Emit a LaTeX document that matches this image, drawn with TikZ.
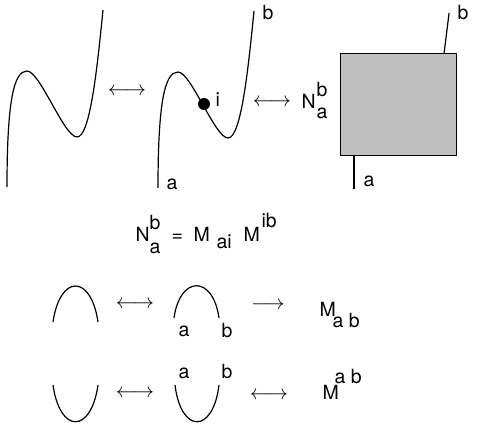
\documentclass[tikz,border=0pt]{standalone}
\usepackage{fontspec}
\setmainfont{TeX Gyre Heros}
\usepackage{tikz}
\definecolor{boxgray}{gray}{0.75}

\begin{document}
\begin{tikzpicture}[x=1pt, y=-1pt, line width=1.2pt,
    lbl/.style={font=\fontsize{19.5}{22}\selectfont, anchor=base west, inner sep=0pt},
    arr/.style={font=\fontsize{20}{24}\selectfont, inner sep=0pt},
    dotnode/.style={circle, fill=black, inner sep=0pt, minimum size=12pt}]
    \useasboundingbox (0,0) rectangle (489,427);

    % Curves
    \draw (7,187) .. controls (7,100) and (14,71) .. (27,71)
        .. controls (40,71) and (64,137) .. (77,137)
        .. controls (90,137) and (97,70) .. (103,10);
    \node[arr] (arrA) at (127,92) {$\longleftrightarrow$};
    \begin{scope}[shift={(151,1)}]
        \draw (7,187) .. controls (7,100) and (14,71) .. (27,71)
            .. controls (40,71) and (64,137) .. (77,137)
            .. controls (90,137) and (97,70) .. (103,10);
        \node[dotnode] (dot) at (53,103) {};
    \end{scope}
    \node[lbl] (labI) at (215,107) {i};
    \node[lbl] (labA) at (166,190) {a};
    \node[lbl] (labB) at (262,20) {b};
    \node[arr] (arrB) at (272,103) {$\longleftrightarrow$};

    % N box
    \node[lbl] (nN) at (301,109) {N};
    \node[lbl] (nNb) at (316,97) {b};
    \node[lbl] (nNa) at (316,119) {a};
    \node[draw, fill=boxgray, minimum width=116pt, minimum height=102pt] (box) at (398.5,104.5) {};
    \draw (box.north east) ++(-13,0) coordinate (wt) -- ++(5,-40) coordinate (wtEnd);
    \draw (box.south west) ++(14,0) coordinate (wb) -- ++(0,33) coordinate (wbEnd);
    \node[lbl] (boxB) at (457,20) {b};
    \node[lbl] (boxA) at (363,187) {a};

    % Equation
    \node[lbl] (eqN) at (135,242) {N};
    \node[lbl] (eqNb) at (149,230) {b};
    \node[lbl] (eqNa) at (149,254) {a};
    \node[lbl] (eqEq) at (171,242) {=};
    \node[lbl] (eqM1) at (193,242) {M};
    \node[lbl] (eqAi) at (216,249) {ai};
    \node[lbl] (eqM2) at (243,242) {M};
    \node[lbl] (eqIb) at (261,228) {ib};

    % Caps
    \draw (53,322) .. controls (60,274) and (91,274) .. (98,322);
    \node[arr] (arrC) at (135,305) {$\longleftrightarrow$};
    \draw (174,318) .. controls (180,275) and (213,275) .. (219,318);
    \node[lbl] (capA) at (178,336) {a};
    \node[lbl] (capB) at (221,337) {b};
    \node[arr] (arrD) at (268,306) {$\longrightarrow$};
    \node[lbl] (capM) at (319,316) {M};
    \node[lbl] (capMab) at (332,327) {a b};

    % Cups
    \draw (53,385) .. controls (60,434) and (91,434) .. (98,385);
    \node[arr] (arrE) at (135,394) {$\longleftrightarrow$};
    \draw (175,385) .. controls (181,434) and (213,434) .. (219,385);
    \node[lbl] (cupA) at (178,378) {a};
    \node[lbl] (cupB) at (221,378) {b};
    \node[arr] (arrF) at (269,396) {$\longleftrightarrow$};
    \node[lbl] (cupM) at (322,399) {M};
    \node[lbl] (cupMab) at (334,383) {a b};
\end{tikzpicture}
\end{document}
